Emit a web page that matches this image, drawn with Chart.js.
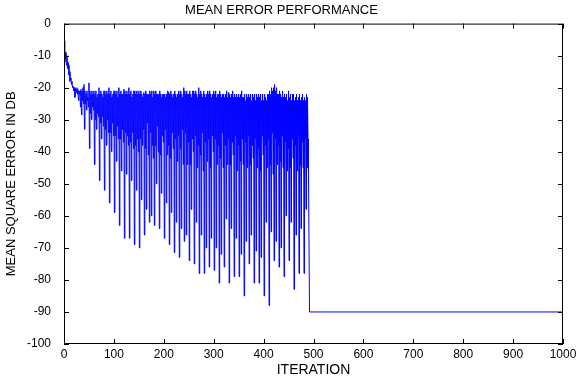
<!DOCTYPE html>
<html>
<head>
<meta charset="utf-8">
<title>Mean error performance</title>
<script src="https://cdn.jsdelivr.net/npm/chart.js@4/dist/chart.umd.min.js"></script>
<style>
  html, body { margin: 0; padding: 0; background: #fff; }
  #wrap { width: 578px; height: 380px; }
</style>
</head>
<body>
<div id="wrap"><canvas id="chartMse" width="578" height="380"></canvas></div>
<script>
// ------ Data ------
// MSE in dB, one value per iteration from 0 up to 490
const mseDb = [
  // 0 - 39
  -5.5, -10, -12, -9, -11, -13, -10, -14, -12, -13,
  -16, -15, -18, -17, -17.5, -19, -18, -20, -19.5, -20,
  -21, -20, -23, -20.5, -21, -21.5, -20, -22, -20.5, -24,
  -21, -22, -21, -26, -20.5, -28.5, -21, -24, -20, -25,
  // 40 - 489, ten per row: top, deep dip, top, mid, top, secondary dip, top, mid, top, mid
  -19, -33, -21, -25, -22, -27, -21, -24, -23, -26,
  -18.5, -39, -21, -28, -22, -30, -21, -26, -22, -27,
  -21, -44, -22, -30, -21, -33, -23, -28, -22, -29,
  -20, -49, -22, -31, -21, -36, -22, -29, -23, -32,
  -21, -52, -21, -33, -22, -38, -21, -30, -22, -34,
  -20, -56, -22, -34, -21, -40, -23, -31, -22, -35,
  -21, -59, -21, -35, -22, -43, -21, -32, -23, -36,
  -20, -63, -22, -36, -21, -46, -22, -33, -22, -37,
  -20.5, -67, -21, -34, -22, -47, -21, -35, -22, -38,
  -20, -67, -22, -37, -21, -49, -23, -34, -22, -39,
  -21, -69, -21, -38, -22, -52, -21, -36, -22, -40,
  -21, -70, -22, -36, -21, -55, -22, -38, -23, -33,
  -21.5, -66, -22, -39, -21, -58, -22, -31, -22, -41,
  -22, -62, -21, -34, -22, -60, -21, -38, -23, -42,
  -21, -63, -22, -38, -21, -50, -22, -32, -22, -40,
  -22, -64, -21, -41, -22, -53, -23, -35, -22, -37,
  -22, -67, -22, -33, -23, -56, -22, -41, -21, -38,
  -21.5, -69, -22, -42, -21, -59, -22, -34, -23, -39,
  -22, -71.5, -21, -36, -22, -62, -23, -43, -22, -35,
  -21, -73, -22, -39, -21, -64, -22, -33, -23, -44,
  -20, -68, -21, -34, -22, -66, -21, -44, -22, -37,
  -22, -74, -21, -44, -22, -58, -23, -36, -21, -40,
  -21, -75, -22, -35, -21, -62, -22, -45, -23, -38,
  -20, -78, -22, -41, -21, -66, -22, -34, -23, -46,
  -21, -78, -22, -37, -23, -70, -22, -43, -21, -36,
  -22, -76, -21, -45, -22, -67, -23, -35, -22, -40,
  -21, -77, -22, -36, -21, -70, -23, -44, -22, -38,
  -22, -81, -21, -42, -22, -72, -23, -34, -22, -45,
  -22, -76, -23, -38, -22, -61, -21, -44, -23, -36,
  -21.5, -81, -22, -44, -23, -64, -22, -37, -21, -41,
  -23, -79, -22, -35, -23, -67, -22, -46, -23, -38,
  -22, -79, -23, -43, -22, -72, -21, -36, -23, -44,
  -23, -85, -22, -37, -24, -68, -22, -45, -23, -35,
  -22, -75, -23, -44, -22, -66, -24, -38, -22, -42,
  -23, -81, -22, -36, -24, -71, -22, -45, -23, -39,
  -22, -81, -23, -46, -22, -73, -24, -35, -22, -41,
  -24, -85, -22, -38, -23, -62, -24, -45, -22, -36,
  -22, -88, -21, -44, -22, -65, -20, -34, -21, -47,
  -20, -74, -19, -36, -21, -68, -20, -44, -22, -38,
  -22, -76, -21, -43, -22, -70, -23, -35, -21, -45,
  -23, -79, -22, -37, -23, -60, -22, -46, -24, -39,
  -21, -74, -23, -45, -22, -62, -24, -36, -22, -42,
  -22, -83, -24, -38, -23, -66, -22, -46, -24, -35,
  -23, -78, -22, -44, -24, -64, -23, -37, -22, -45,
  -24, -78, -23, -36, -24, -58, -22, -45, -23, -36,
  // 490
  -47
];
// after convergence the error sits flat at -90 dB
const tailIter = [492, 1000];
const tailDb = [-90, -90];

const xTicks = [0, 100, 200, 300, 400, 500, 600, 700, 800, 900, 1000];
const yTicks = [0, -10, -20, -30, -40, -50, -60, -70, -80, -90, -100];

const FONT = '"Liberation Sans", Arial, sans-serif';

(function () {
  const points = mseDb.map((v, i) => ({ x: i, y: v }))
    .concat(tailIter.map((x, i) => ({ x, y: tailDb[i] })));

  // ------ Matlab-like frame with inward ticks on all four sides ------
  const boxPlugin = {
    id: 'matlabBox',
    afterDraw(chart) {
      const { ctx, chartArea: a, scales } = chart;
      const len = 5;
      ctx.save();
      ctx.strokeStyle = '#000';
      ctx.lineWidth = 1;
      ctx.strokeRect(a.left + 0.5, a.top + 0.5, a.right - a.left - 1, a.bottom - a.top - 1);
      ctx.beginPath();
      xTicks.forEach(t => {
        const px = Math.round(scales.x.getPixelForValue(t)) + 0.5;
        ctx.moveTo(px, a.bottom); ctx.lineTo(px, a.bottom - len);
        ctx.moveTo(px, a.top); ctx.lineTo(px, a.top + len);
      });
      yTicks.forEach(t => {
        const py = Math.round(scales.y.getPixelForValue(t)) + 0.5;
        ctx.moveTo(a.left, py); ctx.lineTo(a.left + len, py);
        ctx.moveTo(a.right, py); ctx.lineTo(a.right - len, py);
      });
      ctx.stroke();
      ctx.restore();
    }
  };

  new Chart(document.getElementById('chartMse').getContext('2d'), {
    type: 'line',
    data: {
      datasets: [{
        data: points,
        borderColor: '#0000ff',
        borderWidth: 1,
        pointRadius: 0,
        tension: 0,
        fill: false
      }]
    },
    options: {
      responsive: false,
      animation: false,
      layout: { padding: { right: 15, left: 0, bottom: 0, top: 0 } },
      plugins: {
        legend: { display: false },
        tooltip: { enabled: false },
        title: {
          display: true,
          text: 'MEAN ERROR PERFORMANCE',
          color: '#000',
          font: { family: FONT, size: 13, weight: 'normal' },
          padding: { top: 3, bottom: 5 }
        }
      },
      scales: {
        x: {
          type: 'linear',
          min: 0, max: 1000,
          afterBuildTicks(scale) { scale.ticks = xTicks.map(v => ({ value: v })); },
          afterFit(scale) { scale.height = 36; },
          grid: { display: false },
          border: { display: false },
          ticks: {
            color: '#000', padding: -5, maxRotation: 0,
            font: { family: FONT, size: 12 },
            callback: v => String(v)
          },
          title: {
            display: true, text: 'ITERATION', color: '#000',
            font: { family: FONT, size: 14 }, padding: { top: 0, bottom: 1 }
          }
        },
        y: {
          min: -100, max: 0,
          afterBuildTicks(scale) { scale.ticks = yTicks.map(v => ({ value: v })); },
          afterFit(scale) { scale.width = 64; },
          grid: { display: false },
          border: { display: false },
          ticks: { color: '#000', padding: 5, font: { family: FONT, size: 12 } },
          title: {
            display: true, text: 'MEAN SQUARE ERROR IN DB', color: '#000',
            font: { family: FONT, size: 13 }, padding: { top: 4, bottom: 0 }
          }
        }
      }
    },
    plugins: [boxPlugin]
  });
})();
</script>
</body>
</html>
